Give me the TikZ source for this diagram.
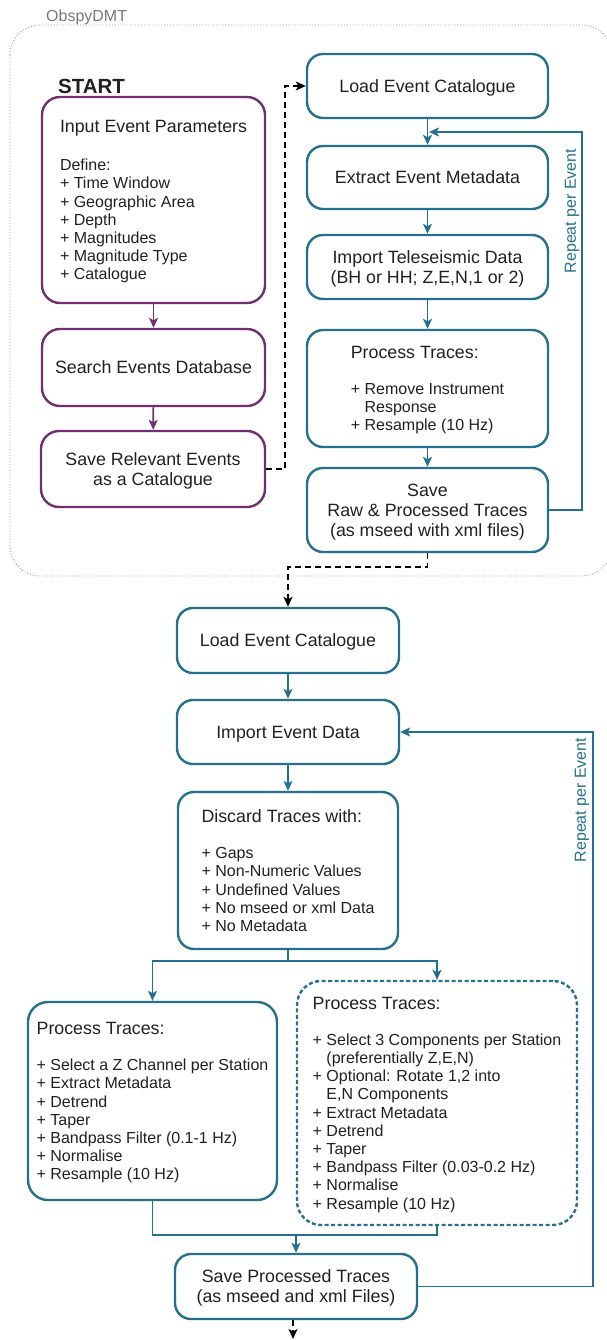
\documentclass[tikz,border=0pt]{standalone}
\usepackage{fontspec}
\setmainfont{Liberation Sans}
\usetikzlibrary{arrows.meta,calc}
\definecolor{pur}{RGB}{112,48,112}
\definecolor{blu}{RGB}{36,112,142}
\definecolor{txt}{RGB}{35,31,32}
\definecolor{framec}{RGB}{150,150,150}
\newcommand\ttlsize{\fontsize{17.8}{20}\selectfont}
\newcommand\lstsize{\fontsize{16}{18.2}\selectfont}
\begin{document}
\begin{tikzpicture}[x=1pt,y=-1pt,
  pbox/.style={draw=pur,line width=2.4pt,rounded corners=18pt,text=txt,inner sep=0pt,align=center,font=\ttlsize,text depth=-3pt},
  bbox/.style={draw=blu,line width=2.4pt,rounded corners=16pt,text=txt,inner sep=0pt,align=center,font=\ttlsize,text depth=-3pt},
  lbox/.style={align=left,font=\lstsize},
  tipstyle/.style={-{Stealth[length=10pt,width=9pt,inset=2.5pt]}},
  parr/.style={draw=pur,line width=1.6pt,tipstyle},
  barr/.style={draw=blu,line width=1.6pt,tipstyle},
  blin/.style={draw=blu,line width=1.6pt},
  karr/.style={draw=black,line width=1.6pt,dash pattern=on 6pt off 4pt,tipstyle},
]
\useasboundingbox (0,0) rectangle (607,1340);

% outer frame
\draw[framec,dotted,line width=0.9pt,rounded corners=30pt] (10,25) rectangle (612,576);
\node[anchor=base west,text=framec!80!black,font=\lstsize,inner sep=0pt] (title) at (46,22) {ObspyDMT};
\node[anchor=base west,text=txt,font=\fontsize{20.5}{24}\selectfont\bfseries,inner sep=0pt] (start) at (58,94) {START};

% purple column
\node[pbox,lbox,minimum width=223pt,minimum height=206pt] (inp) at (153.5,200)
 {{\ttlsize Input Event Parameters}\\[20pt]Define:\\+ Time Window\\+ Geographic Area\\+ Depth\\+ Magnitudes\\+ Magnitude Type\\+ Catalogue};
\node[pbox,minimum width=223pt,minimum height=77pt] (srch) at (153.5,367.5) {Search Events Database};
\node[pbox,minimum width=224pt,minimum height=76pt] (savrel) at (153,469) {Save Relevant Events\\as a Catalogue};
\draw[parr] (inp) -- (srch);
\draw[parr] (srch) -- (savrel);

% blue top column
\node[bbox,minimum width=241pt,minimum height=64pt] (load1) at (427.5,86) {Load Event Catalogue};
\node[bbox,minimum width=241pt,minimum height=63pt] (extr) at (427.5,177.5) {Extract Event Metadata};
\node[bbox,minimum width=241pt,minimum height=64pt] (imp) at (427.5,267) {Import Teleseismic Data\\(BH or HH; Z,E,N,1 or 2)};
\node[bbox,lbox,minimum width=241pt,minimum height=117pt] (proc1) at (427.5,388.5)
 {{\ttlsize Process Traces:}\\[18pt]+ Remove Instrument\\\phantom{+ }Response\\+ Resample (10 Hz)};
\node[bbox,minimum width=241pt,minimum height=84pt] (savraw) at (427.5,510) {Save\\Raw \& Processed Traces\\(as mseed with xml files)};
\draw[barr] (load1) -- (extr);
\draw[barr] (extr) -- (imp);
\draw[barr] (imp) -- (proc1);
\draw[barr] (proc1) -- (savraw);
\coordinate (lp1) at (582,132);
\coordinate (j1) at (429,132);
\draw[barr] (savraw.east) -| (lp1) -- (j1);
\node[rotate=90,text=blu,font=\lstsize,inner sep=0pt] (rep1) at (572,211) {Repeat per Event};

% dashed links
\coordinate (d1) at (285,86);
\draw[karr] (savrel.east) -| (d1) -- (load1.west);
\coordinate (d2) at (427.5,567);

% bottom column
\node[bbox,minimum width=222pt,minimum height=65pt] (load2) at (288,640.5) {Load Event Catalogue};
\node[bbox,minimum width=222pt,minimum height=64pt] (impev) at (288,732) {Import Event Data};
\node[bbox,lbox,minimum width=220pt,minimum height=157pt] (disc) at (288,870.5)
 {{\ttlsize Discard Traces with:}\\[18pt]+ Gaps\\+ Non-Numeric Values\\+ Undefined Values\\+ No mseed or xml Data\\+ No Metadata};
\draw[karr] (savraw.south) -- (d2) -| (load2.north);
\draw[barr] (load2) -- (impev);
\draw[barr] (impev) -- (disc);

\node[bbox,lbox,rounded corners=20pt,minimum width=249pt,minimum height=198pt] (procA) at (152.5,1101)
 {{\ttlsize Process Traces:}\\[18pt]+ Select a Z Channel per Station\\+ Extract Metadata\\+ Detrend\\+ Taper\\+ Bandpass Filter (0.1-1 Hz)\\+ Normalise\\+ Resample (10 Hz)};
\node[bbox,lbox,rounded corners=24pt,dash pattern=on 4pt off 2.5pt,minimum width=280pt,minimum height=244pt] (procB) at (437,1103)
 {{\ttlsize Process Traces:}\\[18pt]+ Select 3 Components per Station\\\phantom{+ }(preferentially Z,E,N)\\+ Optional: Rotate 1,2 into\\\phantom{+ }E,N Components\\+ Extract Metadata\\+ Detrend\\+ Taper\\+ Bandpass Filter (0.03-0.2 Hz)\\+ Normalise\\+ Resample (10 Hz)};
\node[bbox,minimum width=242pt,minimum height=65pt] (savproc) at (296,1286.5) {Save Processed Traces\\(as mseed and xml Files)};

\coordinate (br) at (288,961);
\draw[blin] (disc.south) -- (br);
\draw[barr] (br) -| (procA.north);
\draw[barr] (br) -| (procB.north);
\coordinate (mg) at (296,1235);
\draw[blin] (procA.south) |- (mg);
\draw[blin] (procB.south) |- (mg);
\draw[barr] (mg) -- (savproc.north);

\coordinate (lp2) at (593,732);
\draw[barr] (savproc.east) -| (lp2) -- (impev.east);
\node[rotate=90,text=blu,font=\lstsize,inner sep=0pt] (rep2) at (582,800) {Repeat per Event};

\coordinate (endp) at (293,1339);
\draw[karr] (savproc.south -| endp) -- (endp);
\end{tikzpicture}
\end{document}
